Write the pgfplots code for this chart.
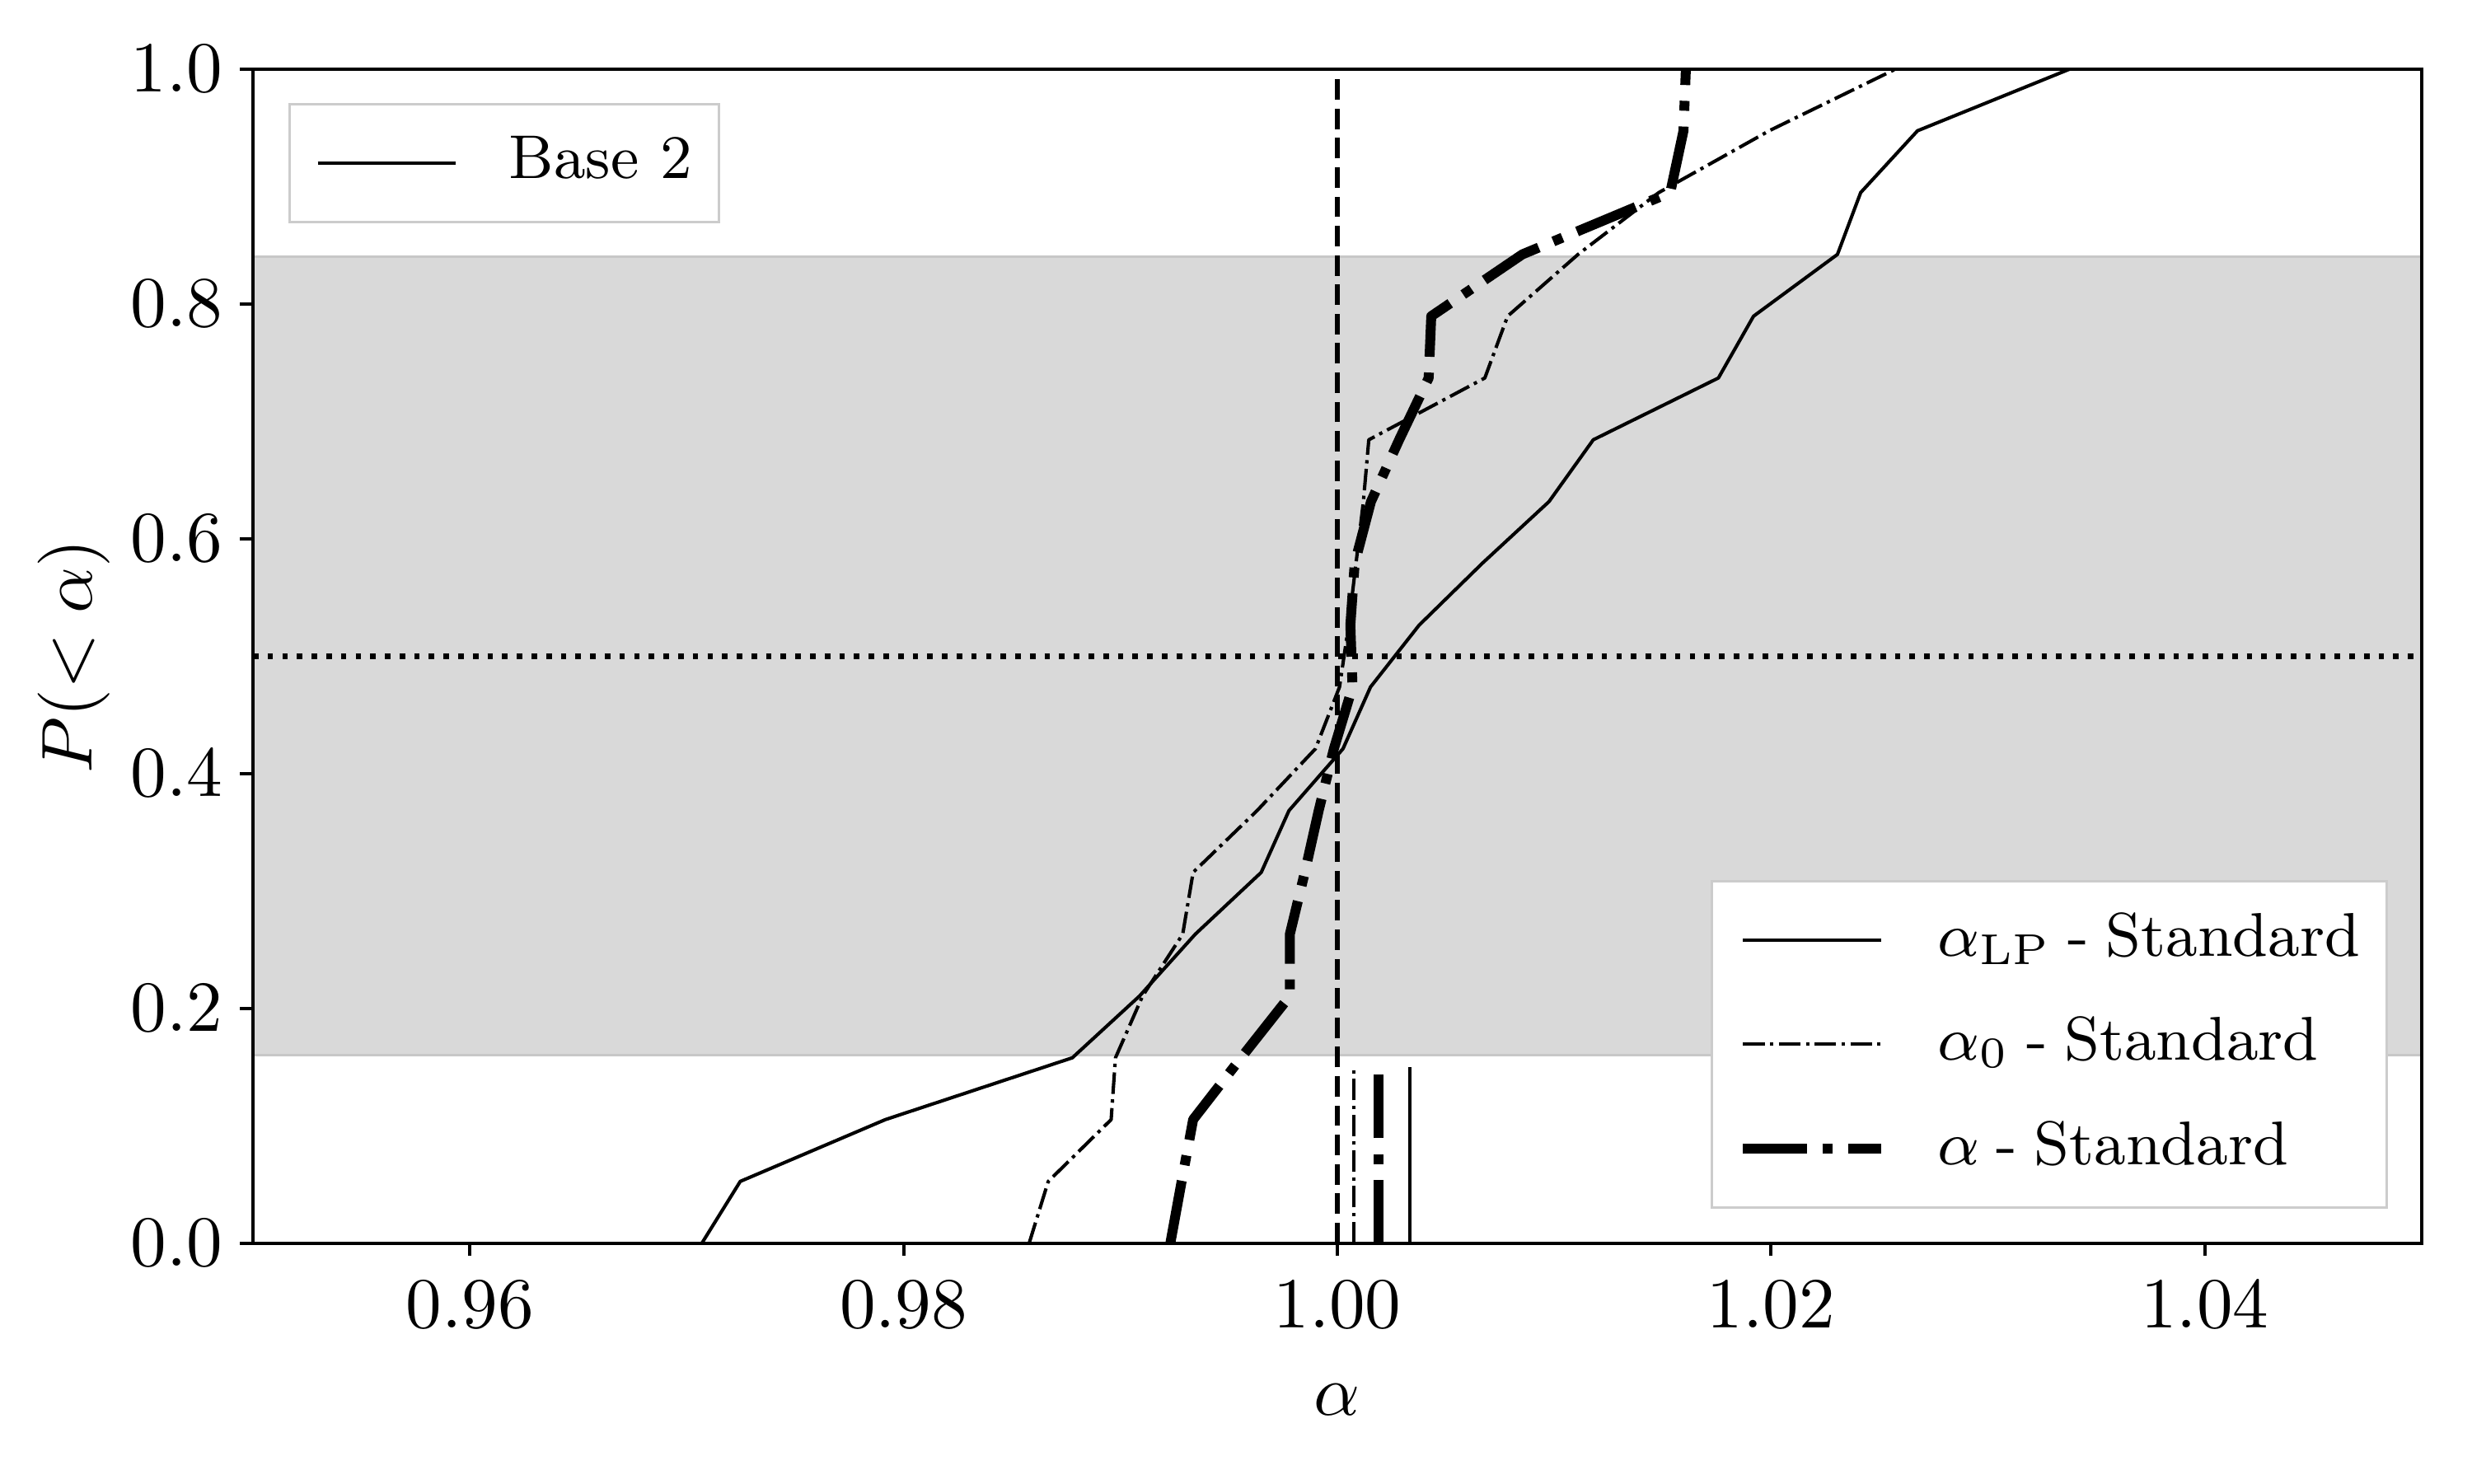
\RequirePackage{fix-cm}
\documentclass[border=0pt]{standalone}
\usepackage{pgfplots}
\pgfplotsset{compat=1.18}
\newcommand{\hy}{\hspace{2.3pt}-\hspace{2.3pt}}
\pgfplotsset{
  mylegend/.style={
    legend cell align=left,
    legend image code/.code={\draw[##1] (0pt,0pt) -- (19.2pt,0pt);},
    legend style={draw=black!20, fill=white, line width=0.35pt,
      inner xsep=3.7pt, inner ysep=4.2pt, row sep=6.5pt, column sep=7.2pt,
      font=\fontsize{8.6}{10}\selectfont,
      nodes={inner sep=0pt, text height=6.2pt, text depth=1.8pt}},
  },
  thinline/.style={black, line width=0.47pt, line join=round},
  thindd/.style={black, line width=0.47pt, line join=round, dash pattern=on 3pt off 0.75pt on 0.47pt off 0.75pt},
  thickdd/.style={black, line width=1.38pt, line join=round, dash pattern=on 8.83pt off 2.2pt on 1.38pt off 2.2pt},
}
\begin{document}
\begin{tikzpicture}
\useasboundingbox (-35.2pt,-33.4pt) rectangle (308.8pt,173pt);
\begin{axis}[
  at={(0,0)}, anchor=south west,
  scale only axis, width=301.8pt, height=163.4pt,
  xmin=0.95, xmax=1.05, ymin=0, ymax=1,
  xtick={0.96,0.98,1.00,1.02,1.04},
  xticklabels={$0.96$,$0.98$,$1.00$,$1.02$,$1.04$},
  ytick={0,0.2,0.4,0.6,0.8,1.0},
  yticklabels={$0.0$,$0.2$,$0.4$,$0.6$,$0.8$,$1.0$},
  yticklabel style={xshift=1.1pt},
  tick align=outside, major tick length=1.8pt,
  tick style={black, line width=0.45pt},
  xtick pos=bottom, ytick pos=left,
  axis line style={line width=0.5pt},
  axis on top,
  every axis x label/.style={at={(rel axis cs:0.5,0)}, yshift=-21.8pt, anchor=center},
  every axis y label/.style={at={(rel axis cs:0,0.5)}, xshift=-24.9pt, rotate=90, anchor=center},
  xlabel={$\alpha$}, ylabel={$P(<\alpha)$},
  mylegend,
  legend style={at={(rel axis cs:1,0)}, anchor=south east, xshift=-4.7pt, yshift=4.8pt},
]
% shaded band
\addplot[fill=black!15, draw=black!22, line width=0.35pt, forget plot]
  coordinates {(0.95,0.16) (1.05,0.16) (1.05,0.84) (0.95,0.84) (0.95,0.16)};
% alpha_LP
\addplot[thinline] coordinates {
(0.9707,0) (0.97247,0.05263) (0.97916,0.10526) (0.98778,0.15789) (0.99088,0.21053)
(0.99345,0.26316) (0.99649,0.31579) (0.99777,0.36842) (1.00026,0.42105) (1.00153,0.47368)
(1.00377,0.52632) (1.00668,0.57895) (1.00976,0.63158) (1.0118,0.68421) (1.01757,0.73684)
(1.01919,0.78947) (1.02306,0.84211) (1.02413,0.89474) (1.02675,0.94737) (1.03378,1)
};
\addlegendentry{$\alpha_{\mathrm{LP}}$\hy Standard}
% alpha_0
\addplot[thindd] coordinates {
(0.98579,0) (0.98667,0.05263) (0.98957,0.10526) (0.98977,0.15789) (0.99102,0.21053)
(0.99287,0.26316) (0.99335,0.31579) (0.9963,0.36842) (0.99899,0.42105) (1.0001,0.47368)
(1.00052,0.52632) (1.00086,0.57895) (1.0012,0.63158) (1.00145,0.68421) (1.0068,0.73684)
(1.00785,0.78947) (1.0111,0.84211) (1.01482,0.89474) (1.01991,0.94737) (1.02575,1)
};
\addlegendentry{$\alpha_0$\hy Standard}
% alpha
\addplot[thickdd] coordinates {
(0.9923,0) (0.99282,0.05263) (0.99335,0.10526) (0.99556,0.15789) (0.99781,0.21053)
(0.99781,0.26316) (0.9985,0.31579) (0.99914,0.36842) (0.99984,0.42105) (1.0007,0.47368)
(1.0006,0.52632) (1.0008,0.57895) (1.00155,0.63158) (1.00285,0.68421) (1.00421,0.73684)
(1.00433,0.78947) (1.00853,0.84211) (1.01535,0.89474) (1.01596,0.94737) (1.01607,1)
};
\addlegendentry{$\alpha$\hy Standard}
% medians
\addplot[thinline, forget plot] coordinates {(1.00334,0) (1.00334,0.15)};
\addplot[thindd, forget plot] coordinates {(1.00075,0) (1.00075,0.15)};
\addplot[thickdd, forget plot] coordinates {(1.00191,0) (1.00191,0.15)};
% reference lines
\addplot[black, line width=0.77pt, dash pattern=on 2.85pt off 1.23pt, forget plot]
  coordinates {(1,0) (1,1)};
\addplot[black, line width=0.77pt, dash pattern=on 0.77pt off 1.27pt, forget plot]
  coordinates {(0.95,0.5) (1.05,0.5)};
\end{axis}
\begin{axis}[
  at={(0,0)}, anchor=south west,
  scale only axis, width=301.8pt, height=163.4pt,
  xmin=0, xmax=1, ymin=0, ymax=1, hide axis,
  mylegend,
  legend style={at={(rel axis cs:0,1)}, anchor=north west, xshift=4.9pt, yshift=-4.7pt},
]
\addlegendimage{thinline}
\addlegendentry{Base 2}
\end{axis}
\end{tikzpicture}
\end{document}
